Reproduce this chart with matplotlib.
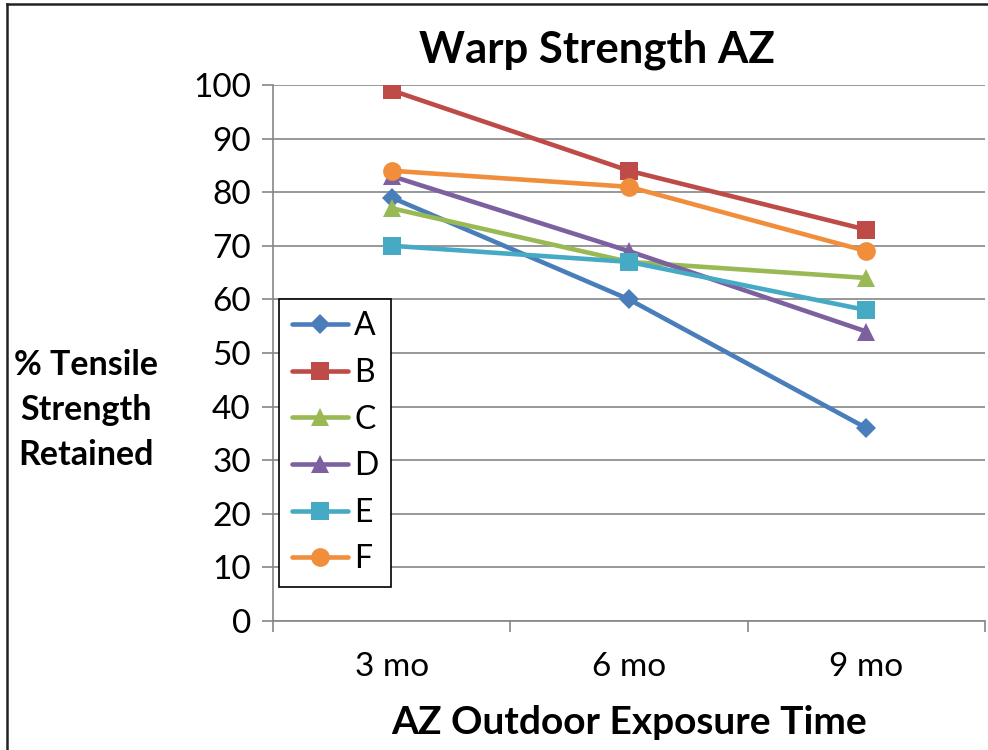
import matplotlib.pyplot as plt
from matplotlib.lines import Line2D

plt.rcParams['font.family'] = ['Lato', 'DejaVu Sans']

periods = ["3 mo", "6 mo", "9 mo"]
names = ["A", "B", "C", "D", "E", "F"]
a_vals = [79, 60, 36]
b_vals = [99, 84, 73]
c_vals = [77, 67, 64]
d_vals = [83, 69, 54]
e_vals = [70, 67, 58]
f_vals = [84, 81, 69]
y_ticks = list(range(0, 101, 10))

series = [a_vals, b_vals, c_vals, d_vals, e_vals, f_vals]
colors = ["#4A7EBB", "#BE4B48", "#98B954", "#7D60A0", "#46AAC5", "#F08E3C"]
markers = ["D", "s", "^", "^", "s", "o"]
msizes = [10, 13, 13.5, 13.5, 13, 13.5]

fig = plt.figure(figsize=(9.88, 7.5), dpi=100)
ax = fig.add_axes([0.2763, 0.172, 0.7207, 0.7147])

grid_c = "#868686"
for vals, name, col, mk, ms in zip(series, names, colors, markers, msizes):
    ax.plot(periods, vals, color=col, lw=3.3, marker=mk, markersize=ms,
            markeredgewidth=0, label=name, solid_capstyle="round")

ax.set_xlim(-0.5, 2.5)
ax.set_ylim(0, 100)
ax.set_yticks(y_ticks)
ax.yaxis.grid(True, color=grid_c, lw=1.2)
ax.set_axisbelow(True)

# category boundaries get the tick marks, labels sit in the middle
ax.set_xticks([-0.5, 0.5, 1.5, 2.5], minor=True)
ax.tick_params(axis="x", which="major", length=0, pad=22, labelsize=24)
ax.tick_params(axis="x", which="minor", length=8, width=1.2, color=grid_c)
ax.tick_params(axis="y", length=8, width=1.2, color=grid_c, pad=8, labelsize=24)

for side in ["top", "right"]:
    ax.spines[side].set_visible(False)
for side in ["left", "bottom"]:
    ax.spines[side].set_color(grid_c)
    ax.spines[side].set_linewidth(1.2)

leg = ax.legend(loc="lower left", bbox_to_anchor=(0.0084, 0.063), borderaxespad=0,
                fontsize=23, frameon=True, fancybox=False, handlelength=1.75,
                handletextpad=0.2, labelspacing=0.52, borderpad=0.4, markerscale=1.0)
leg.get_frame().set_edgecolor("black")
leg.get_frame().set_linewidth(1.2)
leg.get_frame().set_alpha(1)

fig.text(0.604, 0.934, "Warp Strength AZ", ha="center", va="center",
         fontsize=31.5, fontweight="bold")
fig.text(0.087, 0.453, "% Tensile\nStrength\nRetained", ha="center", va="center",
         fontsize=24.5, fontweight="bold", linespacing=1.5)
fig.text(0.637, 0.036, "AZ Outdoor Exposure Time", ha="center", va="center",
         fontsize=28, fontweight="bold")

# outer frame on the left and top edges
fig.add_artist(Line2D([0.007, 0.007], [0, 0.995], color="#222222", lw=1.8,
                      transform=fig.transFigure))
fig.add_artist(Line2D([0.007, 1], [0.995, 0.995], color="#222222", lw=1.8,
                      transform=fig.transFigure))

fig.savefig("out.png", dpi=100)
